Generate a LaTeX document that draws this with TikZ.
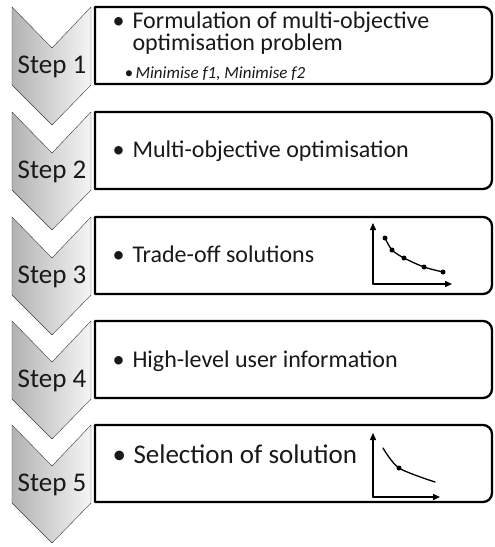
\documentclass[tikz,border=0pt]{standalone}
\usepackage{fontspec}
\setmainfont{Carlito}
\usetikzlibrary{arrows.meta}

\newcommand{\itm}[1][20pt]{\makebox[#1][l]{\textbullet}}

\begin{document}
\begin{tikzpicture}[x=1pt,y=-1pt,>=Stealth,line cap=round,line join=round,
  chev/.style={draw=gray!45!black,thin,left color=gray!60,right color=gray!8},
  panel/.style={draw=black,line width=2.3pt,fill=white},
  steplab/.style={font=\fontsize{27}{27}\selectfont,anchor=base,text=black!90},
  lab/.style={font=\fontsize{24}{24}\selectfont,anchor=base west,text=black!90},
  sub/.style={font=\fontsize{17}{17}\selectfont\itshape,anchor=base west,text=black!90},
  ax/.style={-{Triangle[length=7pt,width=6pt]},line width=1.4pt},
  dot/.style={circle,fill=black,inner sep=0pt,minimum size=5pt}]

  \useasboundingbox (0,0) rectangle (495,547);

  % ---- chevrons and panels ----
  \foreach \i/\t in {1/7,2/112,3/217,4/321,5/425} {
    \shadedraw[chev] (12,\t) -- (52,\t+41) -- (91,\t) -- (91,\t+78)
      -- (52,\t+118) -- (12,\t+78) -- cycle;
    \node[steplab] (step\i) at (52,\t+66) {Step \i};
    \draw[panel] (95,\t) -- (483,\t) arc[start angle=-90,end angle=0,radius=9]
      -- (492,\t+68) arc[start angle=0,end angle=90,radius=9] -- (95,\t+77) -- cycle;
  }

  % ---- panel texts ----
  \node[lab] (form) at (109,28) {\itm Formulation of multi-objective};
  \node[lab] (form2) at (129,50) {optimisation problem};
  \node[sub] (mini) at (121,78) {\itm[11pt]Minimise f1, Minimise f2};
  \node[lab] (moo) at (109,157) {\itm Multi-objective optimisation};
  \node[lab] (trade) at (109,262) {\itm Trade-off solutions};
  \node[lab] (info) at (109,367) {\itm High-level user information};
  \node[lab,font=\fontsize{27}{27}\selectfont] (select) at (109,463) {\itm[21pt]Selection of solution};

  % ---- trade-off front (step 3) ----
  \coordinate (o3) at (373,284);
  \draw[ax] (o3) -- (373,223);
  \draw[ax] (o3) -- (452,284);
  \draw[line width=1.3pt] plot[smooth] coordinates {(385,238) (392,250) (404,258) (424,267) (443,272)};
  \foreach \p [count=\k] in {(385,238),(392,250),(404,258),(424,267),(443,272)}
    \node[dot] (f\k) at \p {};

  % ---- chosen solution (step 5) ----
  \coordinate (o5) at (373,497);
  \draw[ax] (o5) -- (373,433);
  \draw[ax] (o5) -- (440,497);
  \draw[line width=1.3pt] plot[smooth] coordinates {(383,448) (399,468) (435,482)};
  \node[dot] (pick) at (399,468) {};
\end{tikzpicture}
\end{document}
